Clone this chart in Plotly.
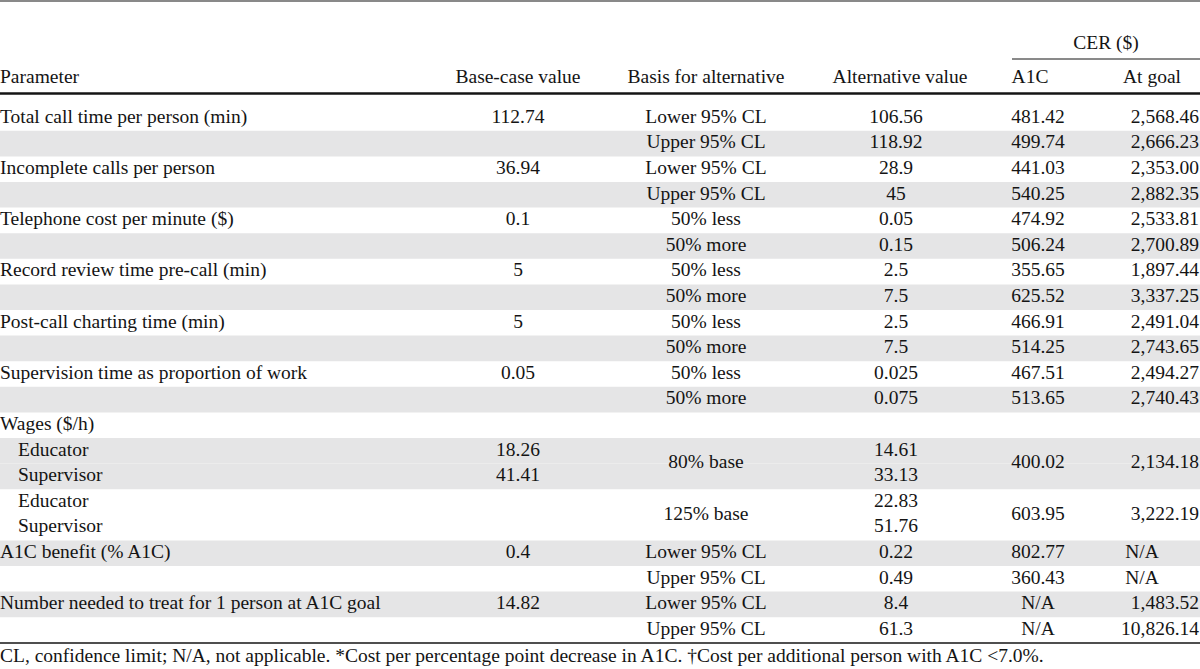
import plotly.graph_objects as go

# ---------------- data ----------------
headers = ["Parameter", "Base-case value", "Basis for alternative",
           "Alternative value", "A1C", "At goal"]
group_header = "CER ($)"

parameters = ["Total call time per person (min)", "",
              "Incomplete calls per person", "",
              "Telephone cost per minute ($)", "",
              "Record review time pre-call (min)", "",
              "Post-call charting time (min)", "",
              "Supervision time as proportion of work", "",
              "Wages ($/h)", "Educator", "Supervisor", "Educator", "Supervisor",
              "A1C benefit (% A1C)", "",
              "Number needed to treat for 1 person at A1C goal", ""]
indented = [False] * 13 + [True, True, True, True] + [False] * 4

base_case = ["112.74", "", "36.94", "", "0.1", "", "5", "", "5", "",
             "0.05", "", "", "18.26", "41.41", "", "", "0.4", "", "14.82", ""]

basis = ["Lower 95% CL", "Upper 95% CL", "Lower 95% CL", "Upper 95% CL",
         "50% less", "50% more", "50% less", "50% more",
         "50% less", "50% more", "50% less", "50% more",
         "", "80% base", "", "125% base", "",
         "Lower 95% CL", "Upper 95% CL", "Lower 95% CL", "Upper 95% CL"]

alternative = ["106.56", "118.92", "28.9", "45", "0.05", "0.15", "2.5", "7.5",
               "2.5", "7.5", "0.025", "0.075", "", "14.61", "33.13", "22.83",
               "51.76", "0.22", "0.49", "8.4", "61.3"]

cer_a1c = ["481.42", "499.74", "441.03", "540.25", "474.92", "506.24",
           "355.65", "625.52", "466.91", "514.25", "467.51", "513.65",
           "", "400.02", "", "603.95", "", "802.77", "360.43", "N/A", "N/A"]

cer_goal = ["2,568.46", "2,666.23", "2,353.00", "2,882.35", "2,533.81",
            "2,700.89", "1,897.44", "3,337.25", "2,491.04", "2,743.65",
            "2,494.27", "2,740.43", "", "2,134.18", "", "3,222.19", "",
            "N/A", "N/A", "1,483.52", "10,826.14"]

shaded = [0, 1, 0, 1, 0, 1, 0, 1, 0, 1, 0, 1, 0, 1, 1, 0, 0, 1, 0, 1, 0]

# rows whose basis / CER cells span two rows (0-based row index -> span)
merged_spans = {13: 2, 15: 2}

footnote = ("CL, confidence limit; N/A, not applicable. *Cost per percentage point "
            "decrease in A1C. \u2020Cost per additional person with A1C <7.0%.")

# ---------------- layout constants ----------------
W, H = 1200, 669
FIRST_ROW_PX = 118.0
ROW_PX = 25.6
FONT = "Liberation Serif"
FS = 19.5
TXT = "#141414"
GRAY = "#e5e5e6"


def row_of(px):
    return (px - FIRST_ROW_PX) / ROW_PX


n = len(parameters)
rows = list(range(n))

X_PARAM, X_INDENT = 0, 18
X_BASE, X_BASIS, X_ALT, X_A1C = 518, 706, 896, 1038
X_GOAL_R, X_GOAL_NA = 1199, 1142

fig = go.Figure()

# shading bands
for i, s in enumerate(shaded):
    if s:
        fig.add_shape(type="rect", xref="x", yref="y", x0=0, x1=W,
                      y0=i - 0.5, y1=i + 0.5, fillcolor=GRAY,
                      line=dict(width=0), layer="below")


def text_trace(xs, ys, texts, pos):
    fig.add_trace(go.Scatter(
        x=xs, y=ys, text=texts, mode="text", textposition=pos,
        textfont=dict(family=FONT, size=FS, color=TXT),
        hoverinfo="skip", showlegend=False, cliponaxis=False))


def cell_y(i):
    return i + (merged_spans.get(i, 1) - 1) / 2


# parameter column
text_trace([X_INDENT if ind else X_PARAM for ind in indented], rows,
           parameters, "middle right")
# base-case values
text_trace([X_BASE] * n, rows, base_case, "middle center")
# basis (with merged cells)
text_trace([X_BASIS] * n, [cell_y(i) for i in rows], basis, "middle center")
# alternative values
text_trace([X_ALT] * n, rows, alternative, "middle center")
# CER A1C
text_trace([X_A1C] * n, [cell_y(i) for i in rows], cer_a1c, "middle center")
# CER at goal: numbers right aligned, N/A centred
goal_num = [(i, t) for i, t in enumerate(cer_goal) if t and t != "N/A"]
goal_na = [(i, t) for i, t in enumerate(cer_goal) if t == "N/A"]
text_trace([X_GOAL_R] * len(goal_num), [cell_y(i) for i, _ in goal_num],
           [t for _, t in goal_num], "middle left")
text_trace([X_GOAL_NA] * len(goal_na), [cell_y(i) for i, _ in goal_na],
           [t for _, t in goal_na], "middle center")

# headers
hy = row_of(78)
text_trace([X_PARAM], [hy], [headers[0]], "middle right")
text_trace([X_BASE, X_BASIS, 900], [hy] * 3, headers[1:4], "middle center")
text_trace([1030, 1152], [hy] * 2, headers[4:6], "middle center")
text_trace([1106], [row_of(44)], [group_header], "middle center")

# footnote
text_trace([X_PARAM], [row_of(657)], [footnote], "middle right")

# rules
def hline(px, x0, x1, w):
    y = row_of(px)
    fig.add_shape(type="line", xref="x", yref="y", x0=x0, x1=x1, y0=y, y1=y,
                  line=dict(color=TXT, width=w))

hline(1, 0, W, 1.2)
hline(59, 1012, W, 1)
hline(93.5, 0, W, 2.5)
hline(643, 0, W, 1.5)

fig.update_layout(
    width=W, height=H, margin=dict(l=0, r=0, t=0, b=0),
    paper_bgcolor="white", plot_bgcolor="white",
    xaxis=dict(range=[0, W], visible=False, fixedrange=True),
    yaxis=dict(range=[row_of(H), row_of(0)], visible=False, fixedrange=True),
    showlegend=False,
)

fig.write_html("out.html", config={"displayModeBar": False},
               post_script="document.body.style.margin='0';")
